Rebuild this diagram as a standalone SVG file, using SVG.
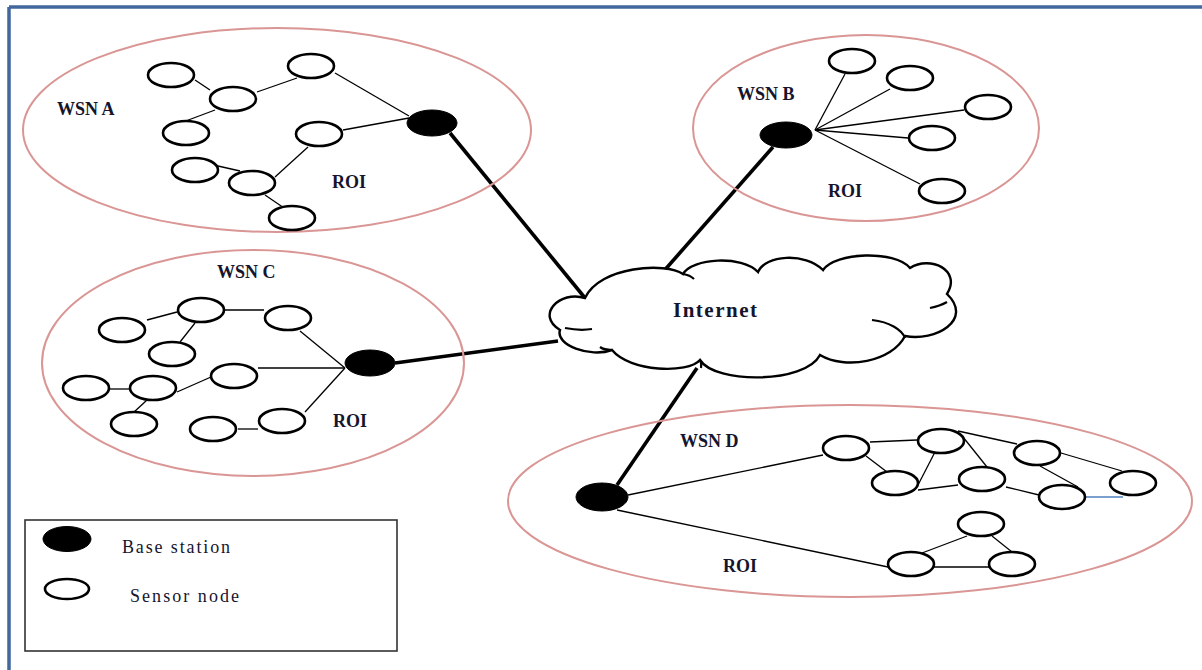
<svg xmlns="http://www.w3.org/2000/svg" width="1202" height="670" viewBox="0 0 1202 670">
<defs>
<style>
.roi{fill:none;stroke:#d99694;stroke-width:2}
.sn{fill:#fff;stroke:#000;stroke-width:2.6}
.bs{fill:#000;stroke:#000;stroke-width:1}
.thin{stroke:#000;stroke-width:1.3;fill:none}
.hook{stroke:#000;stroke-width:2.2;fill:none}
.thick{stroke:#000;stroke-width:3.6;fill:none}
.lbl{font-family:"Liberation Serif","Times New Roman",serif;font-weight:bold;font-size:18px;fill:#15152e}
.big{font-size:21px}
.leg{font-family:"Liberation Serif","Times New Roman",serif;font-size:18px;fill:#15152e}
</style>
</defs>
<rect width="1202" height="670" fill="#fff"/>
<g id="frame">
<line x1="9" y1="7" x2="1202" y2="7" stroke="#41679c" stroke-width="3.5"/>
<line x1="9" y1="7" x2="9" y2="670" stroke="#41679c" stroke-width="3.5"/>
</g>

<g id="connectors">
<!-- backbone links -->
<line class="thick" x1="450" y1="133" x2="585" y2="298"/>
<line class="thick" x1="773" y1="147" x2="663" y2="272"/>
<line class="thick" x1="395" y1="363" x2="558" y2="341"/>
<line class="thick" x1="617" y1="485" x2="697" y2="368"/>
<!-- WSN A -->
<line class="thin" x1="195" y1="80" x2="210" y2="90"/>
<line class="thin" x1="257" y1="92" x2="297" y2="78"/>
<line class="thin" x1="215" y1="110" x2="183" y2="122"/>
<line class="thin" x1="335" y1="73" x2="409" y2="116"/>
<line class="thin" x1="343" y1="130" x2="409" y2="118"/>
<line class="thin" x1="308" y1="147" x2="275" y2="177"/>
<line class="thin" x1="218" y1="166" x2="240" y2="171"/>
<line class="thin" x1="265" y1="195" x2="287" y2="210"/>
<!-- WSN B -->
<line class="thin" x1="815" y1="130" x2="845" y2="74"/>
<line class="thin" x1="815" y1="130" x2="890" y2="89"/>
<line class="thin" x1="815" y1="130" x2="964" y2="110"/>
<line class="thin" x1="815" y1="130" x2="908" y2="138"/>
<line class="thin" x1="815" y1="130" x2="920" y2="184"/>
<!-- WSN C -->
<line class="thin" x1="177" y1="312" x2="147" y2="320"/>
<line class="thin" x1="225" y1="310" x2="264" y2="310"/>
<line class="thin" x1="195" y1="323" x2="180" y2="342"/>
<line class="thin" x1="110" y1="389" x2="129" y2="389"/>
<line class="thin" x1="177" y1="392" x2="211" y2="377"/>
<line class="thin" x1="147" y1="400" x2="133" y2="413"/>
<line class="thin" x1="238" y1="429" x2="258" y2="429"/>
<line class="thin" x1="300" y1="331" x2="345" y2="368"/>
<line class="thin" x1="258" y1="368" x2="345" y2="368"/>
<line class="thin" x1="305" y1="412" x2="345" y2="368"/>
<!-- WSN D -->
<line class="thin" x1="628" y1="495" x2="823" y2="455"/>
<line class="thin" x1="617" y1="510" x2="888" y2="567"/>
<line class="thin" x1="870" y1="442" x2="917" y2="440"/>
<line class="thin" x1="866" y1="456" x2="887" y2="472"/>
<line class="thin" x1="935" y1="452" x2="918" y2="485"/>
<line class="thin" x1="963" y1="437" x2="991" y2="472"/>
<line class="thin" x1="958" y1="431" x2="1017" y2="444"/>
<line class="thin" x1="918" y1="490" x2="958" y2="485"/>
<line class="thin" x1="1006" y1="487" x2="1039" y2="495"/>
<line class="thin" x1="1040" y1="466" x2="1078" y2="487"/>
<line class="thin" x1="1061" y1="453" x2="1122" y2="471"/>
<line x1="1086" y1="497" x2="1123" y2="497" stroke="#4f81bd" stroke-width="1.4"/>
<line class="thin" x1="967" y1="536" x2="922" y2="553"/>
<line class="thin" x1="992" y1="536" x2="1012" y2="552"/>
<line class="thin" x1="934" y1="567" x2="989" y2="567"/>
</g>

<g id="internet">
<path d="M585,298 C560,290 535,315 560,330 C555,345 590,358 612,350 C630,372 688,374 700,360 C715,384 805,384 820,355 C845,370 892,362 905,336 C935,342 974,320 947,294 C962,270 930,255 910,268 C895,250 835,252 823,270 C805,252 765,255 758,272 C742,255 692,258 683,274 C666,262 600,266 585,298 Z" fill="#fff" stroke="#000" stroke-width="2.4"/>
<path d="M565,328 Q580,331 592,329" class="hook"/>
<path d="M683,274 Q690,275 694,279" class="hook"/>
<path d="M930,308 Q940,306 947,302" class="hook"/>
<path d="M872,320 C890,322 902,330 905,338" class="hook"/>
<path d="M700,360 Q702,364 701,368" class="hook"/>
<path d="M612,350 Q604,350 600,347" class="hook"/>
<text x="673" y="317" class="lbl big" textLength="84">Internet</text>
</g>

<g id="wsn-a">
<ellipse class="roi" cx="277" cy="130" rx="254" ry="102"/>
<text class="lbl" x="57" y="115">WSN A</text>
<text class="lbl" x="332" y="188">ROI</text>
<ellipse class="sn" cx="171" cy="75" rx="23" ry="12"/>
<ellipse class="sn" cx="233" cy="99" rx="23" ry="12"/>
<ellipse class="sn" cx="311" cy="66" rx="23" ry="12"/>
<ellipse class="sn" cx="186" cy="133" rx="23" ry="12"/>
<ellipse class="sn" cx="319" cy="134" rx="23" ry="12"/>
<ellipse class="sn" cx="195" cy="170" rx="23" ry="12"/>
<ellipse class="sn" cx="252" cy="183" rx="23" ry="12"/>
<ellipse class="sn" cx="292" cy="218" rx="23" ry="12"/>
<ellipse class="bs" cx="432" cy="123" rx="25" ry="13"/>
</g>

<g id="wsn-b">
<ellipse class="roi" cx="866" cy="128" rx="173" ry="93"/>
<text class="lbl" x="737" y="100">WSN B</text>
<text class="lbl" x="828" y="197">ROI</text>
<ellipse class="sn" cx="852" cy="61" rx="23" ry="12"/>
<ellipse class="sn" cx="910" cy="78" rx="23" ry="12"/>
<ellipse class="sn" cx="988" cy="107" rx="23" ry="12"/>
<ellipse class="sn" cx="932" cy="138" rx="23" ry="12"/>
<ellipse class="sn" cx="942" cy="191" rx="23" ry="12"/>
<ellipse class="bs" cx="786" cy="135" rx="26" ry="13"/>
</g>

<g id="wsn-c">
<ellipse class="roi" cx="253" cy="363" rx="211" ry="113"/>
<text class="lbl" x="217" y="278">WSN C</text>
<text class="lbl" x="333" y="427">ROI</text>
<ellipse class="sn" cx="201" cy="310" rx="23" ry="12"/>
<ellipse class="sn" cx="122" cy="330" rx="23" ry="12"/>
<ellipse class="sn" cx="288" cy="318" rx="23" ry="12"/>
<ellipse class="sn" cx="172" cy="354" rx="23" ry="12"/>
<ellipse class="sn" cx="234" cy="376" rx="23" ry="12"/>
<ellipse class="sn" cx="86" cy="388" rx="23" ry="12"/>
<ellipse class="sn" cx="153" cy="388" rx="23" ry="12"/>
<ellipse class="sn" cx="134" cy="424" rx="23" ry="12"/>
<ellipse class="sn" cx="213" cy="429" rx="23" ry="12"/>
<ellipse class="sn" cx="282" cy="421" rx="23" ry="12"/>
<ellipse class="bs" cx="370" cy="363" rx="25" ry="13"/>
</g>

<g id="wsn-d">
<ellipse class="roi" cx="850" cy="501" rx="342" ry="96"/>
<text class="lbl" x="680" y="447">WSN D</text>
<text class="lbl" x="723" y="572">ROI</text>
<ellipse class="sn" cx="846" cy="448" rx="23" ry="12"/>
<ellipse class="sn" cx="941" cy="441" rx="23" ry="12"/>
<ellipse class="sn" cx="1037" cy="453" rx="23" ry="12"/>
<ellipse class="sn" cx="895" cy="483" rx="23" ry="12"/>
<ellipse class="sn" cx="982" cy="479" rx="23" ry="12"/>
<ellipse class="sn" cx="1062" cy="497" rx="23" ry="12"/>
<ellipse class="sn" cx="1133" cy="483" rx="23" ry="12"/>
<ellipse class="sn" cx="981" cy="524" rx="23" ry="12"/>
<ellipse class="sn" cx="911" cy="564" rx="23" ry="12"/>
<ellipse class="sn" cx="1012" cy="564" rx="23" ry="12"/>
<ellipse class="bs" cx="602" cy="497" rx="26" ry="14"/>
</g>

<g id="legend">
<rect x="25" y="520" width="372" height="131" fill="#fff" stroke="#333" stroke-width="1.6"/>
<ellipse class="bs" cx="67" cy="539" rx="24" ry="12.5"/>
<text class="leg" x="122" y="553" textLength="108">Base station</text>
<ellipse class="sn" cx="67" cy="589" rx="22" ry="10"/>
<text class="leg" x="130" y="602" textLength="109">Sensor node</text>
</g>
</svg>
